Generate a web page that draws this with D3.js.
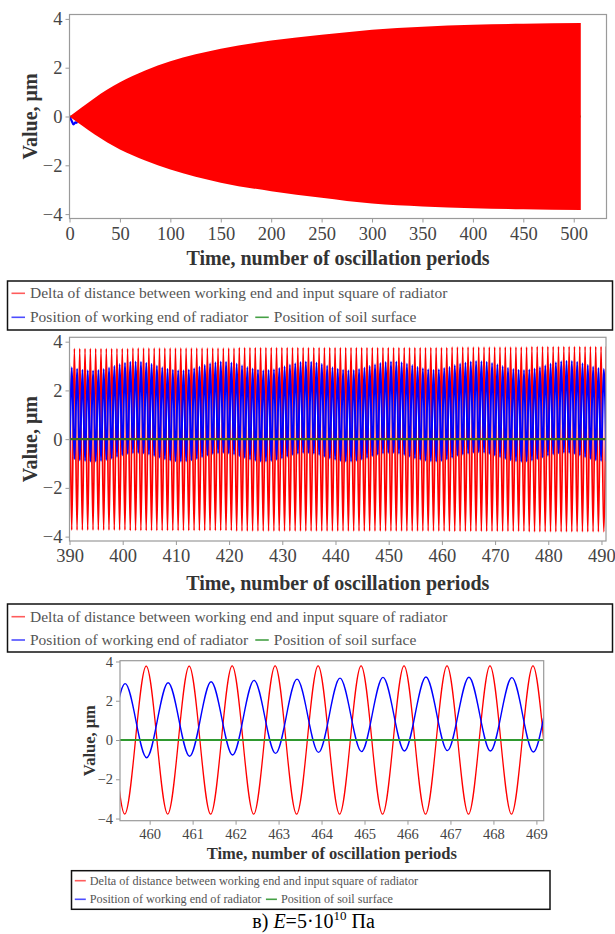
<!DOCTYPE html>
<html>
<head>
<meta charset="utf-8">
<script src="https://cdn.jsdelivr.net/npm/d3@7"></script>
<style>
body { margin: 0; background: #fff; }
text { font-family: "Liberation Serif", "Times New Roman", serif; }
</style>
</head>
<body>
<div id="chart"></div>
<script>
// series names and colours
var seriesNames = [
    "Delta of distance between working end and input square of radiator",
    "Position of working end of radiator",
    "Position of soil surface"
];
var lineColors = ["#ff0000", "#0000ff", "#2f9a2f"];
var legendColors = ["#ff5c5c", "#4d4dff", "#45a045"];

// panel a: red oscillation is too dense to resolve, so keep its envelope
var envTime  = [0, 12, 25, 50, 75, 100, 150, 200, 250, 300, 350, 400, 450, 507];
var envUpper = [0, 0.37, 0.76, 1.40, 1.88, 2.26, 2.78, 3.11, 3.35, 3.56, 3.68, 3.76, 3.80, 3.83];
var envLower = [0, -0.36, -0.74, -1.35, -1.80, -2.17, -2.71, -3.06, -3.33, -3.57, -3.69, -3.76, -3.80, -3.83];
// blue start-up transient that shows outside the red band
var startTime = [0, 2, 4, 6, 8];
var startBlue = [0, -0.16, -0.32, -0.24, -0.27];

// panels b and c: extremes of every period, periods 389 .. 490
var firstPeriod = 389;
var redPeakPhase = 0.92, redTroughPhase = 0.42;
var bluePeakPhase = 0.43, blueTroughPhase = 0.93;

var redPeaks = [
    3.72, 3.72, 3.72, 3.72, 3.72, 3.72, 3.72, 3.72, 3.72, 3.72, 3.72, 3.72,
    3.74, 3.74, 3.74, 3.74, 3.74, 3.74, 3.74, 3.74, 3.74, 3.74, 3.74, 3.74, 3.74, 3.74, 3.74, 3.74, 3.74, 3.74, 3.74, 3.74,
    3.76, 3.76, 3.76, 3.76, 3.76, 3.76, 3.76, 3.76, 3.76, 3.76, 3.76, 3.76, 3.76, 3.76, 3.76, 3.76, 3.76, 3.76, 3.76, 3.76,
    3.76, 3.76, 3.76, 3.76, 3.76, 3.76, 3.76, 3.76, 3.76, 3.76, 3.76, 3.76, 3.76, 3.76, 3.76, 3.76, 3.76, 3.76, 3.76, 3.76,
    3.78, 3.78, 3.78, 3.78, 3.78, 3.78, 3.78, 3.78, 3.78, 3.78, 3.78, 3.78, 3.78, 3.78, 3.78,
    3.80, 3.80, 3.80, 3.80, 3.80, 3.80, 3.80, 3.80, 3.80, 3.80, 3.80, 3.80, 3.80, 3.80, 3.80
];
var redTroughs = [
    -3.73, -3.73, -3.73, -3.73, -3.73, -3.73, -3.73, -3.73, -3.73, -3.73, -3.73, -3.73,
    -3.75, -3.75, -3.75, -3.75, -3.75, -3.75, -3.75, -3.75, -3.75, -3.75, -3.75, -3.75, -3.75, -3.75, -3.75, -3.75, -3.75, -3.75, -3.75, -3.75,
    -3.77, -3.77, -3.77, -3.77, -3.77, -3.77, -3.77, -3.77, -3.77, -3.77, -3.77, -3.77, -3.77, -3.77, -3.77, -3.77, -3.77, -3.77, -3.77, -3.77,
    -3.77, -3.77, -3.77, -3.77, -3.77, -3.77, -3.77, -3.77, -3.77, -3.77, -3.77, -3.77, -3.77, -3.77, -3.77, -3.77, -3.77, -3.77, -3.77, -3.77,
    -3.78, -3.78, -3.78, -3.78, -3.78, -3.78, -3.78, -3.78, -3.78, -3.78, -3.78, -3.78, -3.78, -3.78, -3.78,
    -3.80, -3.80, -3.80, -3.80, -3.80, -3.80, -3.80, -3.80, -3.80, -3.80, -3.80, -3.80, -3.80, -3.80, -3.80
];
var bluePeaks = [
    3.00, 2.95, 2.89, 2.85, 2.83, 2.82, 2.84, 2.88, 2.94, 3.01, 3.08, 3.14, 3.18, 3.19, 3.18, 3.14, 3.09,
    3.02, 2.95, 2.89, 2.85, 2.83, 2.83, 2.86, 2.91, 2.98, 3.05, 3.11, 3.16, 3.19, 3.18, 3.15, 3.10,
    3.03, 2.96, 2.90, 2.85, 2.83, 2.84, 2.87, 2.92, 2.99, 3.06, 3.12, 3.17, 3.19, 3.18, 3.15, 3.09,
    3.02, 2.95, 2.89, 2.85, 2.83, 2.84, 2.88, 2.94, 3.01, 3.07, 3.13, 3.17, 3.19, 3.19, 3.16, 3.10,
    3.04, 2.97, 2.91, 2.87, 2.85, 2.87, 2.92, 2.97, 3.04, 3.10, 3.15, 3.19, 3.21, 3.20, 3.18, 3.13,
    3.07, 3.00, 2.93, 2.88, 2.85, 2.84, 2.86, 2.90, 2.96, 3.03, 3.10, 3.16, 3.20, 3.22, 3.21, 3.18,
    3.12, 3.05, 2.98, 2.92, 2.88
];
var blueTroughs = [
    -0.78, -0.82, -0.87, -0.90, -0.92, -0.92, -0.90, -0.86, -0.80, -0.73, -0.66, -0.61, -0.58, -0.57, -0.59, -0.63, -0.69,
    -0.76, -0.83, -0.88, -0.91, -0.92, -0.91, -0.87, -0.81, -0.74, -0.67, -0.61, -0.58, -0.57, -0.59, -0.63, -0.70,
    -0.77, -0.84, -0.89, -0.92, -0.92, -0.90, -0.85, -0.79, -0.72, -0.65, -0.60, -0.57, -0.57, -0.60, -0.65, -0.72,
    -0.79, -0.85, -0.90, -0.92, -0.92, -0.89, -0.84, -0.77, -0.70, -0.64, -0.59, -0.57, -0.57, -0.60, -0.65, -0.72,
    -0.79, -0.85, -0.89, -0.91, -0.92, -0.90, -0.83, -0.76, -0.68, -0.63, -0.59, -0.56, -0.54, -0.56, -0.61, -0.67,
    -0.74, -0.81, -0.87, -0.91, -0.93, -0.92, -0.88, -0.82, -0.75, -0.68, -0.62, -0.58, -0.56, -0.57, -0.61, -0.67,
    -0.74, -0.81, -0.87, -0.90, -0.91
];
// soil surface stays at zero for the whole run
var soilTime = [0, 507];
var soilValue = [0, 0];

// tick values
var valueTicks = [-4, -2, 0, 2, 4];
var ticksA = [0, 50, 100, 150, 200, 250, 300, 350, 400, 450, 500];
var ticksB = [390, 400, 410, 420, 430, 440, 450, 460, 470, 480, 490];
var ticksC = [460, 461, 462, 463, 464, 465, 466, 467, 468, 469];

var xTitle = "Time, number of oscillation periods";
var yTitle = "Value, \u03bcm";

var svg = d3.select("#chart")
    .append("svg")
    .attr("width", 615)
    .attr("height", 934);

// turn per-period extremes into an ordered list of points
function periodPoints(peaks, troughs, peakPhase, troughPhase) {
    var pts = [];
    peaks.forEach(function(v, i) {
        pts.push({ t: firstPeriod + i + troughPhase, v: troughs[i] });
        pts.push({ t: firstPeriod + i + peakPhase, v: v });
    });
    return pts.sort(function(a, b) { return a.t - b.t; });
}
function zipPoints(times, values) {
    return times.map(function(t, i) { return { t: t, v: values[i] }; });
}

var redPoints = periodPoints(redPeaks, redTroughs, redPeakPhase, redTroughPhase);
var bluePoints = periodPoints(bluePeaks, blueTroughs, bluePeakPhase, blueTroughPhase);
var soilPoints = zipPoints(soilTime, soilValue);

function drawPanel(p, id) {
    var x = d3.scaleLinear().domain(p.xDomain).range([p.left, p.right]);
    var y = d3.scaleLinear().domain(p.yDomain).range([p.bottom, p.top]);
    var g = svg.append("g");

    g.append("clipPath").attr("id", id)
        .append("rect")
        .attr("x", p.left).attr("y", p.top)
        .attr("width", p.right - p.left).attr("height", p.bottom - p.top);

    var plot = g.append("g").attr("clip-path", "url(#" + id + ")");
    p.draw(plot, x, y);

    // frame
    g.append("rect")
        .attr("x", p.left).attr("y", p.top)
        .attr("width", p.right - p.left).attr("height", p.bottom - p.top)
        .attr("fill", "none")
        .attr("stroke", "#9a9a9a")
        .attr("stroke-width", 1.2);

    var xAxis = g.append("g")
        .attr("transform", "translate(0," + p.bottom + ")")
        .call(d3.axisBottom(x).tickValues(p.xTicks).tickSize(4).tickPadding(p.tickPad).tickSizeOuter(0));
    var yAxis = g.append("g")
        .attr("transform", "translate(" + p.left + ",0)")
        .call(d3.axisLeft(y).tickValues(valueTicks).tickSize(4).tickPadding(3).tickSizeOuter(0));

    [xAxis, yAxis].forEach(function(a) {
        a.select(".domain").remove();
        a.selectAll("line").attr("stroke", "#9a9a9a");
        a.selectAll("text")
            .attr("fill", "#444")
            .style("font-family", "'Liberation Serif', 'Times New Roman', serif")
            .style("font-size", p.tickFont + "px");
    });

    g.append("text")
        .attr("x", (p.left + p.right) / 2)
        .attr("y", p.xTitleY)
        .attr("dy", "0.35em")
        .attr("text-anchor", "middle")
        .attr("font-weight", "bold")
        .attr("font-size", p.titleFont)
        .attr("fill", "#333")
        .text(xTitle);

    g.append("text")
        .attr("transform", "translate(" + p.yTitleX + "," + ((p.top + p.bottom) / 2) + ") rotate(-90)")
        .attr("dy", "0.35em")
        .attr("text-anchor", "middle")
        .attr("font-weight", "bold")
        .attr("font-size", p.titleFont)
        .attr("fill", "#333")
        .text(yTitle);
}

function addLine(plot, x, y, pts, color, width, curve) {
    plot.append("path")
        .datum(pts)
        .attr("d", d3.line()
            .x(function(d) { return x(d.t); })
            .y(function(d) { return y(d.v); })
            .curve(curve || d3.curveLinear))
        .attr("fill", "none")
        .attr("stroke", color)
        .attr("stroke-width", width);
}

// panel a: whole run
drawPanel({
    left: 69.5, right: 606.5, top: 14.5, bottom: 218.5,
    xDomain: [0, 532.5], yDomain: [-4.18, 4.18], xTicks: ticksA,
    tickFont: 18.5, tickPad: 4, titleFont: 20, xTitleY: 258, yTitleX: 29.5,
    draw: function(plot, x, y) {
        addLine(plot, x, y, soilPoints, lineColors[2], 2);
        addLine(plot, x, y, zipPoints(startTime, startBlue), lineColors[1], 2.2, d3.curveMonotoneX);
        var env = envTime.map(function(t, i) { return { t: t, hi: envUpper[i], lo: envLower[i] }; });
        plot.append("path")
            .datum(env)
            .attr("d", d3.area()
                .x(function(d) { return x(d.t); })
                .y0(function(d) { return y(d.lo); })
                .y1(function(d) { return y(d.hi); })
                .curve(d3.curveMonotoneX))
            .attr("fill", lineColors[0]);
    }
}, "clipA");

// panel b: periods 390..490
drawPanel({
    left: 69.5, right: 606, top: 337.3, bottom: 541,
    xDomain: [390, 490.85], yDomain: [-4.18, 4.18], xTicks: ticksB,
    tickFont: 18.5, tickPad: 4, titleFont: 20, xTitleY: 583, yTitleX: 29.5,
    draw: function(plot, x, y) {
        addLine(plot, x, y, redPoints, lineColors[0], 1.7, d3.curveMonotoneX);
        addLine(plot, x, y, bluePoints, lineColors[1], 2, d3.curveMonotoneX);
        addLine(plot, x, y, soilPoints, "#3d6a22", 2.2);
    }
}, "clipB");

// panel c: ten periods
drawPanel({
    left: 120, right: 543.7, top: 660.7, bottom: 820.7,
    xDomain: [459.31, 469.17], yDomain: [-4.11, 4.04], xTicks: ticksC,
    tickFont: 14.5, tickPad: 4, titleFont: 16.5, xTitleY: 853.3, yTitleX: 89.3,
    draw: function(plot, x, y) {
        addLine(plot, x, y, redPoints, lineColors[0], 1.3, d3.curveMonotoneX);
        addLine(plot, x, y, bluePoints, lineColors[1], 1.4, d3.curveMonotoneX);
        addLine(plot, x, y, soilPoints, lineColors[2], 2);
    }
}, "clipC");

// legends
function drawLegend(L) {
    var g = svg.append("g");
    g.append("rect")
        .attr("x", L.x).attr("y", L.y).attr("width", L.w).attr("height", L.h)
        .attr("fill", "#fff").attr("stroke", "#111").attr("stroke-width", 1.5);
    var rows = [[0], [1, 2]];
    rows.forEach(function(row, r) {
        var cx = L.x + L.pad;
        var cy = L.rowY[r];
        row.forEach(function(si) {
            g.append("line")
                .attr("x1", cx).attr("x2", cx + L.swatch)
                .attr("y1", cy).attr("y2", cy)
                .attr("stroke", legendColors[si]).attr("stroke-width", 1.6);
            var t = g.append("text")
                .attr("x", cx + L.swatch + L.gap)
                .attr("y", cy).attr("dy", "0.33em")
                .attr("font-size", L.font)
                .attr("fill", "#555")
                .text(seriesNames[si]);
            cx = cx + L.swatch + L.gap + t.node().getComputedTextLength() + L.itemGap;
        });
    });
}

drawLegend({ x: 7.5, y: 281, w: 605, h: 49, rowY: [293.3, 317.3], pad: 4, swatch: 13.5, gap: 5, itemGap: 7, font: 15.5 });
drawLegend({ x: 7.5, y: 604, w: 605, h: 48, rowY: [616.7, 640], pad: 4, swatch: 13.5, gap: 5, itemGap: 7, font: 15.5 });
drawLegend({ x: 71.5, y: 870.7, w: 478.5, h: 38.6, rowY: [880.7, 899.3], pad: 3.3, swatch: 11, gap: 4, itemGap: 4.5, font: 12.2 });

// caption
var cap = svg.append("text")
    .attr("x", 313.6).attr("y", 928)
    .attr("text-anchor", "middle")
    .attr("font-size", 20)
    .attr("fill", "#000");
cap.append("tspan").text("\u0432) ");
cap.append("tspan").attr("font-style", "italic").text("E");
cap.append("tspan").text("=5\u00b710");
cap.append("tspan").attr("font-size", 13).attr("dy", -8).text("10");
cap.append("tspan").attr("dy", 8).text(" \u041f\u0430");
</script>
</body>
</html>
